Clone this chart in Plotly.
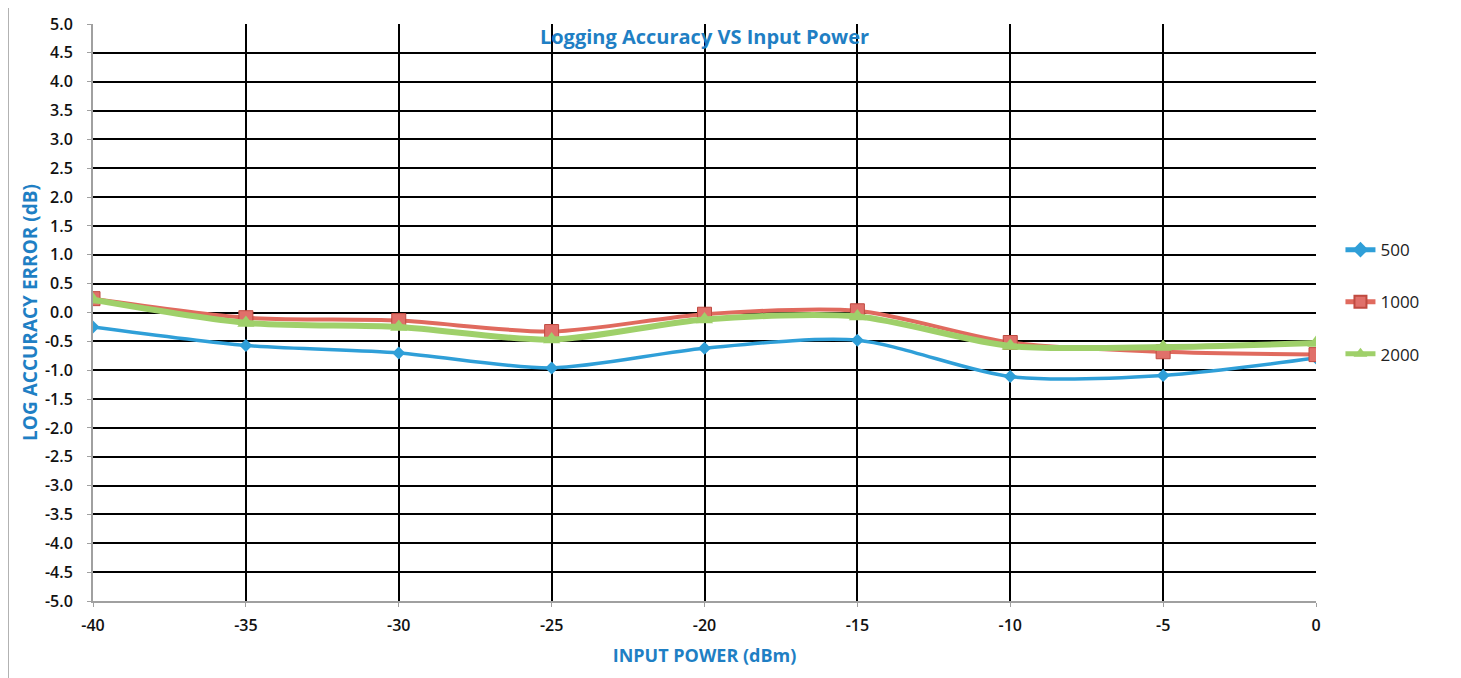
import plotly.graph_objects as go

x_power = [-40, -35, -30, -25, -20, -15, -10, -5, 0]
err_500 = [-0.25, -0.57, -0.70, -0.96, -0.62, -0.48, -1.11, -1.09, -0.79]
err_1000 = [0.24, -0.09, -0.14, -0.33, -0.03, 0.03, -0.52, -0.68, -0.73]
err_2000 = [0.22, -0.18, -0.25, -0.47, -0.12, -0.07, -0.58, -0.60, -0.53]

y_ticks = [v / 10 for v in range(-50, 51, 5)]
y_labels = [f"{v:.1f}" for v in y_ticks]

FONT = "Open Sans"
BLUE_TXT = "#1f7fc4"

fig = go.Figure()
fig.add_trace(go.Scatter(
    x=x_power, y=err_500, name="500", mode="lines+markers", legendgroup="a",
    line=dict(color="#2f9fd8", width=3.5, shape="spline", smoothing=0.8),
    marker=dict(symbol="diamond", size=10, color="#2f9fd8"),
))
fig.add_trace(go.Scatter(
    x=x_power, y=err_1000, name="1000", mode="lines+markers", legendgroup="b",
    line=dict(color="#e06a5e", width=4, shape="spline", smoothing=0.8),
    marker=dict(symbol="square", size=14, color="#e0706a",
                line=dict(color="#c04a40", width=1)),
))
fig.add_trace(go.Scatter(
    x=x_power, y=err_2000, name="2000", mode="lines+markers", legendgroup="c",
    line=dict(color="#9fd06a", width=6, shape="spline", smoothing=0.8),
    marker=dict(symbol="triangle-up", size=15, color="#9fd06a"),
))

fig.update_layout(
    width=1461, height=678,
    paper_bgcolor="white", plot_bgcolor="white",
    margin=dict(l=85, r=153, t=16, b=85, autoexpand=False),
    font=dict(family=FONT, size=14, color="#222222"),
    title=dict(text="<b>Logging Accuracy VS Input Power</b>",
               x=0.5, xref="paper", xanchor="center",
               y=0.978, yref="paper", yanchor="middle", automargin=False,
               font=dict(family=FONT, size=20, color=BLUE_TXT)),
    legend=dict(x=1.020, xanchor="left", y=0.518, yanchor="middle",
                font=dict(family=FONT, size=17, color="#222222"),
                tracegroupgap=27, itemsizing="constant",
                bgcolor="rgba(0,0,0,0)"),
    showlegend=True,
)
fig.update_xaxes(
    range=[-40, 0], tickvals=x_power, ticktext=[str(v) for v in x_power],
    automargin=False,
    showgrid=True, gridcolor="black", gridwidth=2,
    showline=True, linecolor="#a0a0a0", linewidth=2,
    ticks="outside", tickcolor="#a0a0a0", ticklen=4, ticklabelstandoff=5,
    zeroline=False,
    tickfont=dict(family=FONT, size=16, weight=600, color="#111111"),
    title=dict(text="<b>INPUT POWER (dBm)</b>", standoff=14,
               font=dict(family=FONT, size=18, color=BLUE_TXT)),
)
fig.update_yaxes(
    range=[-5, 5], tickvals=y_ticks, ticktext=y_labels,
    automargin=False,
    showgrid=True, gridcolor="black", gridwidth=2,
    showline=True, linecolor="#a0a0a0", linewidth=2,
    ticks="outside", tickcolor="#a0a0a0", ticklen=4, ticklabelstandoff=11,
    zeroline=False,
    tickfont=dict(family=FONT, size=16, weight=600, color="#111111"),
    title=dict(text="<b>LOG ACCURACY ERROR (dB)</b>", standoff=2,
               font=dict(family=FONT, size=19, color=BLUE_TXT)),
)
fig.add_shape(type="rect", xref="paper", yref="paper",
              x0=-0.0695, x1=1.1138, y0=-0.2, y1=1.0385,
              line=dict(color="#999999", width=1.5), layer="above")

fig.write_html("out.html")
